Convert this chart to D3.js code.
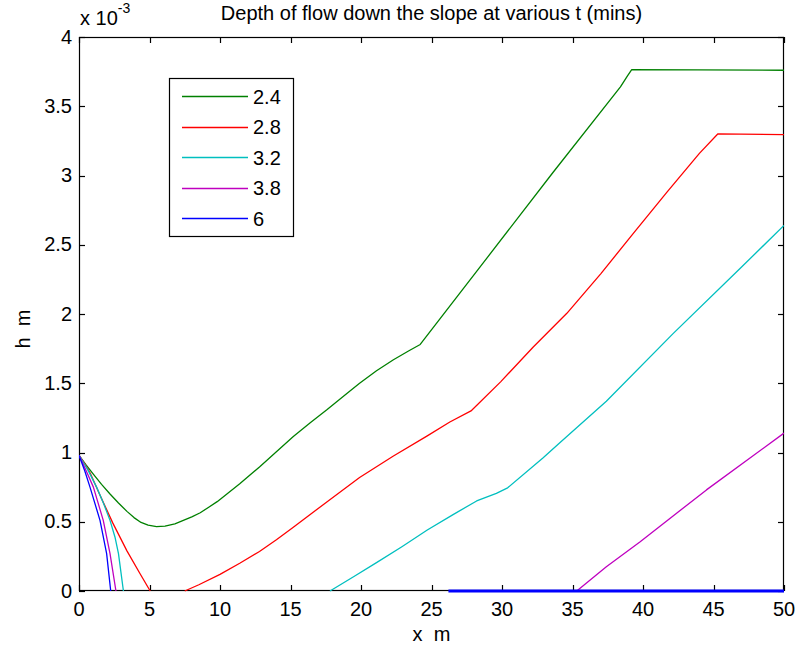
<!DOCTYPE html>
<html>
<head>
<meta charset="utf-8">
<script src="https://cdn.jsdelivr.net/npm/d3@7"></script>
<style>
  html, body { margin: 0; padding: 0; background: #fff; }
  svg text { font-family: "Liberation Sans", Arial, Helvetica, sans-serif; fill: #000; white-space: pre; }
</style>
</head>
<body>
<svg id="chart" width="796" height="653"></svg>
<script>
// ---- data (h in units of 1e-3 m) ----
const title = "Depth of flow down the slope at various t (mins)";
const seriesNames = ["2.4", "2.8", "3.2", "3.8", "6"];
const seriesColors = ["#008000", "#ff0000", "#00bfbf", "#bf00bf", "#0000ff"];
const xTicks = [0, 5, 10, 15, 20, 25, 30, 35, 40, 45, 50];
const yTicks = [0, 0.5, 1, 1.5, 2, 2.5, 3, 3.5, 4];

const greenX = [0, 0.5, 1.0, 1.6, 2.2, 2.8, 3.4, 3.9, 4.4, 4.9, 5.5, 6.1, 6.8, 7.4, 8.0, 8.6, 9.2, 9.8, 10.6, 11.4, 12.8, 14.0, 15.2, 16.4, 17.6, 18.8, 19.9, 21.1, 22.3, 23.4, 24.2, 28.9, 33.6, 38.4, 38.9, 39.2, 50];
const greenH = [0.98, 0.91, 0.845, 0.77, 0.70, 0.635, 0.575, 0.53, 0.495, 0.475, 0.465, 0.468, 0.485, 0.51, 0.535, 0.565, 0.605, 0.645, 0.71, 0.775, 0.895, 1.005, 1.115, 1.215, 1.31, 1.41, 1.50, 1.59, 1.67, 1.735, 1.78, 2.40, 3.02, 3.64, 3.72, 3.765, 3.76];

const redX = [0, 0.4, 0.8, 1.5, 2.4, 3.4, 4.3, 5.05, NaN, 7.5, 8.5, 10, 11.4, 12.8, 14.0, 15.2, 17.6, 19.9, 22.3, 24.7, 26.3, 27.8, 29.9, 32.2, 34.6, 37.0, 39.3, 41.7, 44.0, 45.3, 50];
const redH = [0.98, 0.92, 0.85, 0.69, 0.49, 0.29, 0.13, 0, NaN, 0, 0.045, 0.12, 0.20, 0.285, 0.37, 0.46, 0.645, 0.82, 0.975, 1.12, 1.22, 1.30, 1.51, 1.76, 2.005, 2.29, 2.58, 2.88, 3.16, 3.30, 3.295];

const cyanX = [0, 0.6, 1.25, 1.75, 2.2, 2.55, 2.8, 3.15, NaN, 17.8, 19.5, 21.1, 22.9, 24.7, 26.5, 28.2, 29.6, 30.4, 32.9, 34.1, 37.4, 42.15, 46.9, 50];
const cyanH = [0.98, 0.88, 0.75, 0.63, 0.51, 0.39, 0.27, 0, NaN, 0, 0.105, 0.205, 0.32, 0.44, 0.55, 0.65, 0.705, 0.745, 0.96, 1.07, 1.37, 1.86, 2.33, 2.64];

const magentaX = [0, 0.5, 1.02, 1.72, 2.2, 2.62, NaN, 35.3, 37.4, 39.8, 44.5, 50];
const magentaH = [0.98, 0.87, 0.75, 0.51, 0.27, 0, NaN, 0, 0.175, 0.356, 0.73, 1.14];

const blueX = [0, 0.4, 0.78, 1.49, 1.96, 2.25, NaN, 26.2, 50];
const blueH = [0.98, 0.87, 0.75, 0.51, 0.27, 0, NaN, 0, 0];

const seriesX = [greenX, redX, cyanX, magentaX, blueX];
const seriesH = [greenH, redH, cyanH, magentaH, blueH];

// ---- layout ----
const svg = d3.select("#chart");
const L = 79, R = 784, T = 37, B = 591;
const x = d3.scaleLinear().domain([0, 50]).range([L, R]);
const y = d3.scaleLinear().domain([0, 4]).range([B, T]);
const fs = 20;

svg.append("rect").attr("x", L).attr("y", T).attr("width", R - L).attr("height", B - T).attr("fill", "#fff");

svg.append("clipPath").attr("id", "clip").append("rect")
  .attr("x", L).attr("y", T - 2).attr("width", R - L).attr("height", B - T + 4);

// axes (ticks inside, box)
const gAx = svg.append("g");
const tickLen = 6;
gAx.append("rect").attr("x", L + 0.5).attr("y", T + 0.5).attr("width", R - L - 1).attr("height", B - T - 1)
  .attr("fill", "none").attr("stroke", "#000").attr("stroke-width", 1.2);

xTicks.forEach(t => {
  const px = Math.round(x(t)) + 0.5;
  gAx.append("line").attr("x1", px).attr("x2", px).attr("y1", B).attr("y2", B - tickLen).attr("stroke", "#000").attr("stroke-width", 1.2);
  gAx.append("line").attr("x1", px).attr("x2", px).attr("y1", T).attr("y2", T + tickLen).attr("stroke", "#000").attr("stroke-width", 1.2);
  gAx.append("text").attr("x", x(t)).attr("y", 616).attr("text-anchor", "middle")
    .attr("font-size", fs).text(d3.format("")(t));
});
yTicks.forEach(t => {
  const py = Math.round(y(t)) + 0.5;
  gAx.append("line").attr("x1", L).attr("x2", L + tickLen).attr("y1", py).attr("y2", py).attr("stroke", "#000").attr("stroke-width", 1.2);
  gAx.append("line").attr("x1", R).attr("x2", R - tickLen).attr("y1", py).attr("y2", py).attr("stroke", "#000").attr("stroke-width", 1.2);
  gAx.append("text").attr("x", 72).attr("y", y(t) + 6.5).attr("text-anchor", "end")
    .attr("font-size", fs).text(d3.format("")(t));
});

// series lines (on top of the axis box)
const gLines = svg.append("g").attr("clip-path", "url(#clip)");
seriesX.forEach((xs, i) => {
  const pts = xs.map((v, j) => [v, seriesH[i][j]]);
  const segs = [];
  let cur = [];
  pts.forEach(p => {
    if (isNaN(p[0])) { if (cur.length) segs.push(cur); cur = []; }
    else cur.push(p);
  });
  if (cur.length) segs.push(cur);
  const line = d3.line().x(d => x(d[0])).y(d => y(d[1]));
  segs.forEach(seg => {
    const flat = seg.every(d => d[1] === 0);
    gLines.append("path").attr("d", line(seg)).attr("fill", "none")
      .attr("stroke", seriesColors[i])
      .attr("stroke-width", flat ? 3 : 1.3)
      .attr("stroke-linejoin", "round");
  });
});

// scale note "x 10^-3"
const sc = svg.append("text").attr("x", 80).attr("y", 25).attr("font-size", fs);
sc.append("tspan").text("x 10");
sc.append("tspan").attr("font-size", 14).attr("dy", -12).text("-3");

// title
svg.append("text").attr("x", (L + R) / 2).attr("y", 20).attr("text-anchor", "middle")
  .attr("font-size", fs).text(title);

// axis labels
svg.append("text").attr("x", (L + R) / 2).attr("y", 641).attr("text-anchor", "middle")
  .attr("font-size", fs).text("x  m");
svg.append("text").attr("transform", "translate(30,329) rotate(-90)").attr("text-anchor", "middle")
  .attr("font-size", fs).text("h  m");

// legend
const lg = svg.append("g");
lg.append("rect").attr("x", 169.5).attr("y", 78.5).attr("width", 124).attr("height", 158)
  .attr("fill", "#fff").attr("stroke", "#000").attr("stroke-width", 1.2);
const rowY = d3.scaleLinear().domain([0, 4]).range([96, 218]);
seriesNames.forEach((n, i) => {
  const yy = Math.round(rowY(i)) + 0.5;
  lg.append("line").attr("x1", 182).attr("x2", 248).attr("y1", yy).attr("y2", yy)
    .attr("stroke", seriesColors[i]).attr("stroke-width", 1.5);
  lg.append("text").attr("x", 253).attr("y", rowY(i) + 7.5).attr("font-size", fs).text(n);
});
</script>
</body>
</html>
